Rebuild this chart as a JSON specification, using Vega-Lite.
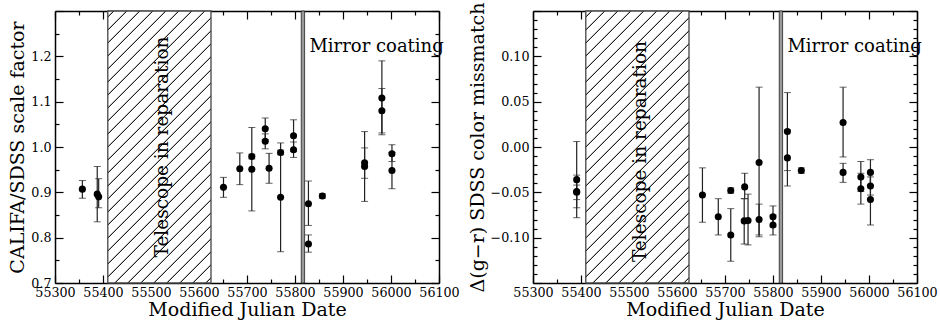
{
  "$schema": "https://vega.github.io/schema/vega-lite/v6.json",
  "padding": {"left": 8, "top": 2, "right": 0, "bottom": 0},
  "spacing": 8,
  "config": {
    "view": {"stroke": null},
    "font": "DejaVu Serif",
    "axis": {"labelFont": "DejaVu Serif", "titleFont": "DejaVu Serif", "labelColor": "black", "titleColor": "black", "titleFontWeight": "normal", "labelFontSize": 12.7, "titleFontSize": 19, "grid": false, "zindex": 1, "domainColor": "black", "tickColor": "black", "tickWidth": 1.2, "domainWidth": 1.5, "labelFlush": false, "labelOverlap": false}
  },
  "datasets": {
    "periods": [
      {"period": "reparation", "start": 55410, "end": 55625},
      {"period": "coating", "start": 55813, "end": 55820}
    ],
    "scale": [
      {"mjd": 55357, "v": 0.907, "lo": 0.887, "hi": 0.926},
      {"mjd": 55388, "v": 0.896, "lo": 0.835, "hi": 0.957},
      {"mjd": 55391, "v": 0.890, "lo": 0.866, "hi": 0.930},
      {"mjd": 55651, "v": 0.911, "lo": 0.889, "hi": 0.933},
      {"mjd": 55685, "v": 0.952, "lo": 0.917, "hi": 0.987},
      {"mjd": 55710, "v": 0.979, "lo": 0.974, "hi": 0.984},
      {"mjd": 55710, "v": 0.951, "lo": 0.859, "hi": 1.043},
      {"mjd": 55738, "v": 1.040, "lo": 1.016, "hi": 1.064},
      {"mjd": 55738, "v": 1.0125, "lo": 0.996, "hi": 1.029},
      {"mjd": 55746, "v": 0.953, "lo": 0.920, "hi": 0.986},
      {"mjd": 55770, "v": 0.889, "lo": 0.769, "hi": 1.009},
      {"mjd": 55770, "v": 0.988, "lo": 0.983, "hi": 0.993},
      {"mjd": 55797, "v": 1.025, "lo": 0.990, "hi": 1.060},
      {"mjd": 55797, "v": 0.994, "lo": 0.977, "hi": 1.011},
      {"mjd": 55828, "v": 0.875, "lo": 0.827, "hi": 0.925},
      {"mjd": 55828, "v": 0.786, "lo": 0.768, "hi": 0.806},
      {"mjd": 55857, "v": 0.892, "lo": 0.887, "hi": 0.897},
      {"mjd": 55945, "v": 0.957, "lo": 0.880, "hi": 1.034},
      {"mjd": 55945, "v": 0.965, "lo": 0.931, "hi": 0.998},
      {"mjd": 55981, "v": 1.108, "lo": 1.027, "hi": 1.190},
      {"mjd": 55981, "v": 1.080, "lo": 1.031, "hi": 1.129},
      {"mjd": 56002, "v": 0.985, "lo": 0.968, "hi": 1.005},
      {"mjd": 56002, "v": 0.948, "lo": 0.908, "hi": 0.988}
    ],
    "color": [
      {"mjd": 55391, "v": -0.036, "lo": -0.078, "hi": 0.006},
      {"mjd": 55391, "v": -0.049, "lo": -0.067, "hi": -0.031},
      {"mjd": 55391, "v": -0.050, "lo": -0.058, "hi": -0.042},
      {"mjd": 55653, "v": -0.053, "lo": -0.083, "hi": -0.023},
      {"mjd": 55686, "v": -0.077, "lo": -0.097, "hi": -0.057},
      {"mjd": 55712, "v": -0.048, "lo": -0.051, "hi": -0.045},
      {"mjd": 55712, "v": -0.097, "lo": -0.126, "hi": -0.068},
      {"mjd": 55741, "v": -0.044, "lo": -0.057, "hi": -0.029},
      {"mjd": 55740, "v": -0.0815, "lo": -0.107, "hi": -0.057},
      {"mjd": 55748, "v": -0.081, "lo": -0.108, "hi": -0.052},
      {"mjd": 55771, "v": -0.017, "lo": -0.099, "hi": 0.066},
      {"mjd": 55771, "v": -0.080, "lo": -0.097, "hi": -0.063},
      {"mjd": 55800, "v": -0.077, "lo": -0.088, "hi": -0.065},
      {"mjd": 55800, "v": -0.086, "lo": -0.097, "hi": -0.075},
      {"mjd": 55830, "v": 0.017, "lo": -0.026, "hi": 0.060},
      {"mjd": 55830, "v": -0.012, "lo": -0.043, "hi": 0.019},
      {"mjd": 55859, "v": -0.026, "lo": -0.029, "hi": -0.023},
      {"mjd": 55946, "v": 0.027, "lo": -0.011, "hi": 0.066},
      {"mjd": 55946, "v": -0.028, "lo": -0.039, "hi": -0.018},
      {"mjd": 55983, "v": -0.033, "lo": -0.049, "hi": -0.016},
      {"mjd": 55983, "v": -0.046, "lo": -0.063, "hi": -0.029},
      {"mjd": 56003, "v": -0.028, "lo": -0.042, "hi": -0.014},
      {"mjd": 56003, "v": -0.043, "lo": -0.053, "hi": -0.033},
      {"mjd": 56003, "v": -0.058, "lo": -0.086, "hi": -0.029}
    ]
  },
  "resolve": {"axis": {"x": "independent", "y": "independent"}},
  "hconcat": [
    {
      "width": 384, "height": 272,
      "resolve": {"axis": {"x": "independent", "y": "independent"}},
      "layer": [
        {
          "data": {"name": "periods"},
          "transform": [{"filter": "datum.period === 'reparation'"}],
          "mark": {"type": "rect", "stroke": "#444", "strokeWidth": 1.3, "fill": {"gradient": "linear", "x1": 0, "y1": 0, "x2": 0.4877, "y2": 1.2855, "stops": [
            {"offset": 0, "color": "#fff"},
            {"offset": 0.0125, "color": "#fff"}, {"offset": 0.0141, "color": "#222"}, {"offset": 0.0159, "color": "#222"}, {"offset": 0.0175, "color": "#fff"},
            {"offset": 0.045, "color": "#fff"}, {"offset": 0.0466, "color": "#222"}, {"offset": 0.0484, "color": "#222"}, {"offset": 0.05, "color": "#fff"},
            {"offset": 0.0775, "color": "#fff"}, {"offset": 0.0791, "color": "#222"}, {"offset": 0.0809, "color": "#222"}, {"offset": 0.0825, "color": "#fff"},
            {"offset": 0.11, "color": "#fff"}, {"offset": 0.1116, "color": "#222"}, {"offset": 0.1134, "color": "#222"}, {"offset": 0.115, "color": "#fff"},
            {"offset": 0.1425, "color": "#fff"}, {"offset": 0.1441, "color": "#222"}, {"offset": 0.1459, "color": "#222"}, {"offset": 0.1475, "color": "#fff"},
            {"offset": 0.175, "color": "#fff"}, {"offset": 0.1766, "color": "#222"}, {"offset": 0.1784, "color": "#222"}, {"offset": 0.18, "color": "#fff"},
            {"offset": 0.2075, "color": "#fff"}, {"offset": 0.2091, "color": "#222"}, {"offset": 0.2109, "color": "#222"}, {"offset": 0.2125, "color": "#fff"},
            {"offset": 0.24, "color": "#fff"}, {"offset": 0.2416, "color": "#222"}, {"offset": 0.2434, "color": "#222"}, {"offset": 0.245, "color": "#fff"},
            {"offset": 0.2725, "color": "#fff"}, {"offset": 0.2741, "color": "#222"}, {"offset": 0.2759, "color": "#222"}, {"offset": 0.2775, "color": "#fff"},
            {"offset": 0.305, "color": "#fff"}, {"offset": 0.3066, "color": "#222"}, {"offset": 0.3084, "color": "#222"}, {"offset": 0.31, "color": "#fff"},
            {"offset": 0.3375, "color": "#fff"}, {"offset": 0.3391, "color": "#222"}, {"offset": 0.3409, "color": "#222"}, {"offset": 0.3425, "color": "#fff"},
            {"offset": 0.37, "color": "#fff"}, {"offset": 0.3716, "color": "#222"}, {"offset": 0.3734, "color": "#222"}, {"offset": 0.375, "color": "#fff"},
            {"offset": 0.4025, "color": "#fff"}, {"offset": 0.4041, "color": "#222"}, {"offset": 0.4059, "color": "#222"}, {"offset": 0.4075, "color": "#fff"},
            {"offset": 0.435, "color": "#fff"}, {"offset": 0.4366, "color": "#222"}, {"offset": 0.4384, "color": "#222"}, {"offset": 0.44, "color": "#fff"},
            {"offset": 0.4675, "color": "#fff"}, {"offset": 0.4691, "color": "#222"}, {"offset": 0.4709, "color": "#222"}, {"offset": 0.4725, "color": "#fff"},
            {"offset": 0.5, "color": "#fff"}, {"offset": 0.5016, "color": "#222"}, {"offset": 0.5034, "color": "#222"}, {"offset": 0.505, "color": "#fff"},
            {"offset": 0.5325, "color": "#fff"}, {"offset": 0.5341, "color": "#222"}, {"offset": 0.5359, "color": "#222"}, {"offset": 0.5375, "color": "#fff"},
            {"offset": 0.565, "color": "#fff"}, {"offset": 0.5666, "color": "#222"}, {"offset": 0.5684, "color": "#222"}, {"offset": 0.57, "color": "#fff"},
            {"offset": 0.5975, "color": "#fff"}, {"offset": 0.5991, "color": "#222"}, {"offset": 0.6009, "color": "#222"}, {"offset": 0.6025, "color": "#fff"},
            {"offset": 0.63, "color": "#fff"}, {"offset": 0.6316, "color": "#222"}, {"offset": 0.6334, "color": "#222"}, {"offset": 0.635, "color": "#fff"},
            {"offset": 0.6625, "color": "#fff"}, {"offset": 0.6641, "color": "#222"}, {"offset": 0.6659, "color": "#222"}, {"offset": 0.6675, "color": "#fff"},
            {"offset": 0.695, "color": "#fff"}, {"offset": 0.6966, "color": "#222"}, {"offset": 0.6984, "color": "#222"}, {"offset": 0.7, "color": "#fff"},
            {"offset": 0.7275, "color": "#fff"}, {"offset": 0.7291, "color": "#222"}, {"offset": 0.7309, "color": "#222"}, {"offset": 0.7325, "color": "#fff"},
            {"offset": 0.76, "color": "#fff"}, {"offset": 0.7616, "color": "#222"}, {"offset": 0.7634, "color": "#222"}, {"offset": 0.765, "color": "#fff"},
            {"offset": 0.7925, "color": "#fff"}, {"offset": 0.7941, "color": "#222"}, {"offset": 0.7959, "color": "#222"}, {"offset": 0.7975, "color": "#fff"},
            {"offset": 0.825, "color": "#fff"}, {"offset": 0.8266, "color": "#222"}, {"offset": 0.8284, "color": "#222"}, {"offset": 0.83, "color": "#fff"},
            {"offset": 0.8575, "color": "#fff"}, {"offset": 0.8591, "color": "#222"}, {"offset": 0.8609, "color": "#222"}, {"offset": 0.8625, "color": "#fff"},
            {"offset": 0.89, "color": "#fff"}, {"offset": 0.8916, "color": "#222"}, {"offset": 0.8934, "color": "#222"}, {"offset": 0.895, "color": "#fff"},
            {"offset": 0.9225, "color": "#fff"}, {"offset": 0.9241, "color": "#222"}, {"offset": 0.9259, "color": "#222"}, {"offset": 0.9275, "color": "#fff"},
            {"offset": 1, "color": "#fff"}
          ]}},
          "encoding": {
            "x": {"field": "start", "type": "quantitative", "scale": {"domain": [55300, 56100], "nice": false, "zero": false}, "axis": null},
            "x2": {"field": "end"}
          }
        },
        {
          "data": {"name": "periods"},
          "transform": [{"filter": "datum.period === 'coating'"}],
          "mark": {"type": "rect", "fill": "#999", "stroke": "#222", "strokeWidth": 0.8},
          "encoding": {
            "x": {"field": "start", "type": "quantitative", "scale": {"domain": [55300, 56100], "nice": false, "zero": false}, "axis": null},
            "x2": {"field": "end"}
          }
        },
        {
          "data": {"values": [{}]},
          "mark": {"type": "text", "text": "Telescope in reparation", "angle": 270, "fontSize": 18.5, "font": "DejaVu Serif", "align": "center", "baseline": "middle", "color": "black"},
          "encoding": {
            "x": {"datum": 55522, "type": "quantitative", "scale": {"domain": [55300, 56100], "nice": false, "zero": false}, "axis": null},
            "y": {"datum": 1.0, "type": "quantitative", "scale": {"domain": [0.7, 1.3], "nice": false, "zero": false}, "axis": null}
          }
        },
        {
          "data": {"values": [{}]},
          "mark": {"type": "text", "text": "Mirror coating", "fontSize": 18, "font": "DejaVu Serif", "align": "left", "baseline": "alphabetic", "color": "black"},
          "encoding": {
            "x": {"datum": 55830, "type": "quantitative", "scale": {"domain": [55300, 56100], "nice": false, "zero": false}, "axis": null},
            "y": {"datum": 1.209, "type": "quantitative", "scale": {"domain": [0.7, 1.3], "nice": false, "zero": false}, "axis": null}
          }
        },
        {
          "data": {"name": "scale"},
          "mark": {"type": "errorbar", "ticks": {"size": 7, "color": "#222", "strokeWidth": 1.2}, "rule": {"color": "#222", "strokeWidth": 1.2}},
          "encoding": {
            "x": {"field": "mjd", "type": "quantitative", "scale": {"domain": [55300, 56100], "nice": false, "zero": false}, "axis": null},
            "y": {"field": "lo", "type": "quantitative", "scale": {"domain": [0.7, 1.3], "nice": false, "zero": false}, "axis": null},
            "y2": {"field": "hi"}
          }
        },
        {
          "data": {"name": "scale"},
          "mark": {"type": "circle", "size": 50, "color": "black", "opacity": 1},
          "encoding": {
            "x": {"field": "mjd", "type": "quantitative", "scale": {"domain": [55300, 56100], "nice": false, "zero": false}, "axis": {"orient": "bottom", "values": [55300, 55400, 55500, 55600, 55700, 55800, 55900, 56000, 56100], "format": "d", "ticks": false, "tickSize": 0, "domain": false, "labelPadding": 3, "title": "Modified Julian Date", "titlePadding": 2}},
            "y": {"field": "v", "type": "quantitative", "scale": {"domain": [0.7, 1.3], "nice": false, "zero": false}, "axis": {"orient": "left", "values": [0.7, 0.8, 0.9, 1.0, 1.1, 1.2], "format": ".1f", "ticks": false, "tickSize": 0, "domain": false, "labelPadding": 4, "title": "CALIFA/SDSS scale factor", "titlePadding": 3}}
          }
        },
        {
          "data": {"name": "scale"},
          "mark": {"type": "point", "opacity": 0},
          "encoding": {
            "x": {"field": "mjd", "type": "quantitative", "scale": {"domain": [55300, 56100], "nice": false, "zero": false}, "axis": {"orient": "bottom", "values": [55300, 55400, 55500, 55600, 55700, 55800, 55900, 56000, 56100], "labels": false, "title": null, "tickSize": -8, "domain": true}},
            "y": {"field": "v", "type": "quantitative", "scale": {"domain": [0.7, 1.3], "nice": false, "zero": false}, "axis": {"orient": "left", "values": [0.7, 0.8, 0.9, 1.0, 1.1, 1.2, 1.3], "labels": false, "title": null, "tickSize": -8, "domain": true}}
          }
        },
        {
          "data": {"name": "scale"},
          "mark": {"type": "point", "opacity": 0},
          "encoding": {
            "x": {"field": "mjd", "type": "quantitative", "scale": {"domain": [55300, 56100], "nice": false, "zero": false}, "axis": {"orient": "bottom", "values": [55350, 55450, 55550, 55650, 55750, 55850, 55950, 56050], "labels": false, "title": null, "tickSize": -4, "domain": false}},
            "y": {"field": "v", "type": "quantitative", "scale": {"domain": [0.7, 1.3], "nice": false, "zero": false}, "axis": {"orient": "left", "values": [0.75, 0.85, 0.95, 1.05, 1.15, 1.25], "labels": false, "title": null, "tickSize": -4, "domain": false}}
          }
        },
        {
          "data": {"name": "scale"},
          "mark": {"type": "point", "opacity": 0},
          "encoding": {
            "x": {"field": "mjd", "type": "quantitative", "scale": {"domain": [55300, 56100], "nice": false, "zero": false}, "axis": {"orient": "top", "values": [55300, 55400, 55500, 55600, 55700, 55800, 55900, 56000, 56100], "labels": false, "title": null, "tickSize": -8, "domain": true}},
            "y": {"field": "v", "type": "quantitative", "scale": {"domain": [0.7, 1.3], "nice": false, "zero": false}, "axis": {"orient": "right", "values": [0.7, 0.8, 0.9, 1.0, 1.1, 1.2, 1.3], "labels": false, "title": null, "tickSize": -8, "domain": true}}
          }
        },
        {
          "data": {"name": "scale"},
          "mark": {"type": "point", "opacity": 0},
          "encoding": {
            "x": {"field": "mjd", "type": "quantitative", "scale": {"domain": [55300, 56100], "nice": false, "zero": false}, "axis": {"orient": "top", "values": [55350, 55450, 55550, 55650, 55750, 55850, 55950, 56050], "labels": false, "title": null, "tickSize": -4, "domain": false}},
            "y": {"field": "v", "type": "quantitative", "scale": {"domain": [0.7, 1.3], "nice": false, "zero": false}, "axis": {"orient": "right", "values": [0.75, 0.85, 0.95, 1.05, 1.15, 1.25], "labels": false, "title": null, "tickSize": -4, "domain": false}}
          }
        }
      ]
    },
    {
      "width": 384, "height": 272,
      "resolve": {"axis": {"x": "independent", "y": "independent"}},
      "layer": [
        {
          "data": {"name": "periods"},
          "transform": [{"filter": "datum.period === 'reparation'"}],
          "mark": {"type": "rect", "stroke": "#444", "strokeWidth": 1.3, "fill": {"gradient": "linear", "x1": 0, "y1": 0, "x2": 0.4877, "y2": 1.2855, "stops": [
            {"offset": 0, "color": "#fff"},
            {"offset": 0.0125, "color": "#fff"}, {"offset": 0.0141, "color": "#222"}, {"offset": 0.0159, "color": "#222"}, {"offset": 0.0175, "color": "#fff"},
            {"offset": 0.045, "color": "#fff"}, {"offset": 0.0466, "color": "#222"}, {"offset": 0.0484, "color": "#222"}, {"offset": 0.05, "color": "#fff"},
            {"offset": 0.0775, "color": "#fff"}, {"offset": 0.0791, "color": "#222"}, {"offset": 0.0809, "color": "#222"}, {"offset": 0.0825, "color": "#fff"},
            {"offset": 0.11, "color": "#fff"}, {"offset": 0.1116, "color": "#222"}, {"offset": 0.1134, "color": "#222"}, {"offset": 0.115, "color": "#fff"},
            {"offset": 0.1425, "color": "#fff"}, {"offset": 0.1441, "color": "#222"}, {"offset": 0.1459, "color": "#222"}, {"offset": 0.1475, "color": "#fff"},
            {"offset": 0.175, "color": "#fff"}, {"offset": 0.1766, "color": "#222"}, {"offset": 0.1784, "color": "#222"}, {"offset": 0.18, "color": "#fff"},
            {"offset": 0.2075, "color": "#fff"}, {"offset": 0.2091, "color": "#222"}, {"offset": 0.2109, "color": "#222"}, {"offset": 0.2125, "color": "#fff"},
            {"offset": 0.24, "color": "#fff"}, {"offset": 0.2416, "color": "#222"}, {"offset": 0.2434, "color": "#222"}, {"offset": 0.245, "color": "#fff"},
            {"offset": 0.2725, "color": "#fff"}, {"offset": 0.2741, "color": "#222"}, {"offset": 0.2759, "color": "#222"}, {"offset": 0.2775, "color": "#fff"},
            {"offset": 0.305, "color": "#fff"}, {"offset": 0.3066, "color": "#222"}, {"offset": 0.3084, "color": "#222"}, {"offset": 0.31, "color": "#fff"},
            {"offset": 0.3375, "color": "#fff"}, {"offset": 0.3391, "color": "#222"}, {"offset": 0.3409, "color": "#222"}, {"offset": 0.3425, "color": "#fff"},
            {"offset": 0.37, "color": "#fff"}, {"offset": 0.3716, "color": "#222"}, {"offset": 0.3734, "color": "#222"}, {"offset": 0.375, "color": "#fff"},
            {"offset": 0.4025, "color": "#fff"}, {"offset": 0.4041, "color": "#222"}, {"offset": 0.4059, "color": "#222"}, {"offset": 0.4075, "color": "#fff"},
            {"offset": 0.435, "color": "#fff"}, {"offset": 0.4366, "color": "#222"}, {"offset": 0.4384, "color": "#222"}, {"offset": 0.44, "color": "#fff"},
            {"offset": 0.4675, "color": "#fff"}, {"offset": 0.4691, "color": "#222"}, {"offset": 0.4709, "color": "#222"}, {"offset": 0.4725, "color": "#fff"},
            {"offset": 0.5, "color": "#fff"}, {"offset": 0.5016, "color": "#222"}, {"offset": 0.5034, "color": "#222"}, {"offset": 0.505, "color": "#fff"},
            {"offset": 0.5325, "color": "#fff"}, {"offset": 0.5341, "color": "#222"}, {"offset": 0.5359, "color": "#222"}, {"offset": 0.5375, "color": "#fff"},
            {"offset": 0.565, "color": "#fff"}, {"offset": 0.5666, "color": "#222"}, {"offset": 0.5684, "color": "#222"}, {"offset": 0.57, "color": "#fff"},
            {"offset": 0.5975, "color": "#fff"}, {"offset": 0.5991, "color": "#222"}, {"offset": 0.6009, "color": "#222"}, {"offset": 0.6025, "color": "#fff"},
            {"offset": 0.63, "color": "#fff"}, {"offset": 0.6316, "color": "#222"}, {"offset": 0.6334, "color": "#222"}, {"offset": 0.635, "color": "#fff"},
            {"offset": 0.6625, "color": "#fff"}, {"offset": 0.6641, "color": "#222"}, {"offset": 0.6659, "color": "#222"}, {"offset": 0.6675, "color": "#fff"},
            {"offset": 0.695, "color": "#fff"}, {"offset": 0.6966, "color": "#222"}, {"offset": 0.6984, "color": "#222"}, {"offset": 0.7, "color": "#fff"},
            {"offset": 0.7275, "color": "#fff"}, {"offset": 0.7291, "color": "#222"}, {"offset": 0.7309, "color": "#222"}, {"offset": 0.7325, "color": "#fff"},
            {"offset": 0.76, "color": "#fff"}, {"offset": 0.7616, "color": "#222"}, {"offset": 0.7634, "color": "#222"}, {"offset": 0.765, "color": "#fff"},
            {"offset": 0.7925, "color": "#fff"}, {"offset": 0.7941, "color": "#222"}, {"offset": 0.7959, "color": "#222"}, {"offset": 0.7975, "color": "#fff"},
            {"offset": 0.825, "color": "#fff"}, {"offset": 0.8266, "color": "#222"}, {"offset": 0.8284, "color": "#222"}, {"offset": 0.83, "color": "#fff"},
            {"offset": 0.8575, "color": "#fff"}, {"offset": 0.8591, "color": "#222"}, {"offset": 0.8609, "color": "#222"}, {"offset": 0.8625, "color": "#fff"},
            {"offset": 0.89, "color": "#fff"}, {"offset": 0.8916, "color": "#222"}, {"offset": 0.8934, "color": "#222"}, {"offset": 0.895, "color": "#fff"},
            {"offset": 0.9225, "color": "#fff"}, {"offset": 0.9241, "color": "#222"}, {"offset": 0.9259, "color": "#222"}, {"offset": 0.9275, "color": "#fff"},
            {"offset": 1, "color": "#fff"}
          ]}},
          "encoding": {
            "x": {"field": "start", "type": "quantitative", "scale": {"domain": [55300, 56100], "nice": false, "zero": false}, "axis": null},
            "x2": {"field": "end"}
          }
        },
        {
          "data": {"name": "periods"},
          "transform": [{"filter": "datum.period === 'coating'"}],
          "mark": {"type": "rect", "fill": "#999", "stroke": "#222", "strokeWidth": 0.8},
          "encoding": {
            "x": {"field": "start", "type": "quantitative", "scale": {"domain": [55300, 56100], "nice": false, "zero": false}, "axis": null},
            "x2": {"field": "end"}
          }
        },
        {
          "data": {"values": [{}]},
          "mark": {"type": "text", "text": "Telescope in reparation", "angle": 270, "fontSize": 18.5, "font": "DejaVu Serif", "align": "center", "baseline": "middle", "color": "black"},
          "encoding": {
            "x": {"datum": 55522, "type": "quantitative", "scale": {"domain": [55300, 56100], "nice": false, "zero": false}, "axis": null},
            "y": {"datum": -0.005, "type": "quantitative", "scale": {"domain": [-0.15, 0.15], "nice": false, "zero": false}, "axis": null}
          }
        },
        {
          "data": {"values": [{}]},
          "mark": {"type": "text", "text": "Mirror coating", "fontSize": 18, "font": "DejaVu Serif", "align": "left", "baseline": "alphabetic", "color": "black"},
          "encoding": {
            "x": {"datum": 55830, "type": "quantitative", "scale": {"domain": [55300, 56100], "nice": false, "zero": false}, "axis": null},
            "y": {"datum": 0.1044, "type": "quantitative", "scale": {"domain": [-0.15, 0.15], "nice": false, "zero": false}, "axis": null}
          }
        },
        {
          "data": {"name": "color"},
          "mark": {"type": "errorbar", "ticks": {"size": 7, "color": "#222", "strokeWidth": 1.2}, "rule": {"color": "#222", "strokeWidth": 1.2}},
          "encoding": {
            "x": {"field": "mjd", "type": "quantitative", "scale": {"domain": [55300, 56100], "nice": false, "zero": false}, "axis": null},
            "y": {"field": "lo", "type": "quantitative", "scale": {"domain": [-0.15, 0.15], "nice": false, "zero": false}, "axis": null},
            "y2": {"field": "hi"}
          }
        },
        {
          "data": {"name": "color"},
          "mark": {"type": "circle", "size": 50, "color": "black", "opacity": 1},
          "encoding": {
            "x": {"field": "mjd", "type": "quantitative", "scale": {"domain": [55300, 56100], "nice": false, "zero": false}, "axis": {"orient": "bottom", "values": [55300, 55400, 55500, 55600, 55700, 55800, 55900, 56000, 56100], "format": "d", "ticks": false, "tickSize": 0, "domain": false, "labelPadding": 3, "title": "Modified Julian Date", "titlePadding": 2}},
            "y": {"field": "v", "type": "quantitative", "scale": {"domain": [-0.15, 0.15], "nice": false, "zero": false}, "axis": {"orient": "left", "values": [-0.1, -0.05, 0, 0.05, 0.1], "format": ".2f", "ticks": false, "tickSize": 0, "domain": false, "labelPadding": 4, "title": "Δ(g−r) SDSS color missmatch", "titlePadding": 3}}
          }
        },
        {
          "data": {"name": "color"},
          "mark": {"type": "point", "opacity": 0},
          "encoding": {
            "x": {"field": "mjd", "type": "quantitative", "scale": {"domain": [55300, 56100], "nice": false, "zero": false}, "axis": {"orient": "bottom", "values": [55300, 55400, 55500, 55600, 55700, 55800, 55900, 56000, 56100], "labels": false, "title": null, "tickSize": -8, "domain": true}},
            "y": {"field": "v", "type": "quantitative", "scale": {"domain": [-0.15, 0.15], "nice": false, "zero": false}, "axis": {"orient": "left", "values": [-0.15, -0.1, -0.05, 0, 0.05, 0.1, 0.15], "labels": false, "title": null, "tickSize": -8, "domain": true}}
          }
        },
        {
          "data": {"name": "color"},
          "mark": {"type": "point", "opacity": 0},
          "encoding": {
            "x": {"field": "mjd", "type": "quantitative", "scale": {"domain": [55300, 56100], "nice": false, "zero": false}, "axis": {"orient": "bottom", "values": [55350, 55450, 55550, 55650, 55750, 55850, 55950, 56050], "labels": false, "title": null, "tickSize": -4, "domain": false}},
            "y": {"field": "v", "type": "quantitative", "scale": {"domain": [-0.15, 0.15], "nice": false, "zero": false}, "axis": {"orient": "left", "values": [-0.14, -0.13, -0.12, -0.11, -0.09, -0.08, -0.07, -0.06, -0.04, -0.03, -0.02, -0.01, 0.01, 0.02, 0.03, 0.04, 0.06, 0.07, 0.08, 0.09, 0.11, 0.12, 0.13, 0.14], "labels": false, "title": null, "tickSize": -4, "domain": false}}
          }
        },
        {
          "data": {"name": "color"},
          "mark": {"type": "point", "opacity": 0},
          "encoding": {
            "x": {"field": "mjd", "type": "quantitative", "scale": {"domain": [55300, 56100], "nice": false, "zero": false}, "axis": {"orient": "top", "values": [55300, 55400, 55500, 55600, 55700, 55800, 55900, 56000, 56100], "labels": false, "title": null, "tickSize": -8, "domain": true}},
            "y": {"field": "v", "type": "quantitative", "scale": {"domain": [-0.15, 0.15], "nice": false, "zero": false}, "axis": {"orient": "right", "values": [-0.15, -0.1, -0.05, 0, 0.05, 0.1, 0.15], "labels": false, "title": null, "tickSize": -8, "domain": true}}
          }
        },
        {
          "data": {"name": "color"},
          "mark": {"type": "point", "opacity": 0},
          "encoding": {
            "x": {"field": "mjd", "type": "quantitative", "scale": {"domain": [55300, 56100], "nice": false, "zero": false}, "axis": {"orient": "top", "values": [55350, 55450, 55550, 55650, 55750, 55850, 55950, 56050], "labels": false, "title": null, "tickSize": -4, "domain": false}},
            "y": {"field": "v", "type": "quantitative", "scale": {"domain": [-0.15, 0.15], "nice": false, "zero": false}, "axis": {"orient": "right", "values": [-0.14, -0.13, -0.12, -0.11, -0.09, -0.08, -0.07, -0.06, -0.04, -0.03, -0.02, -0.01, 0.01, 0.02, 0.03, 0.04, 0.06, 0.07, 0.08, 0.09, 0.11, 0.12, 0.13, 0.14], "labels": false, "title": null, "tickSize": -4, "domain": false}}
          }
        }
      ]
    }
  ]
}
